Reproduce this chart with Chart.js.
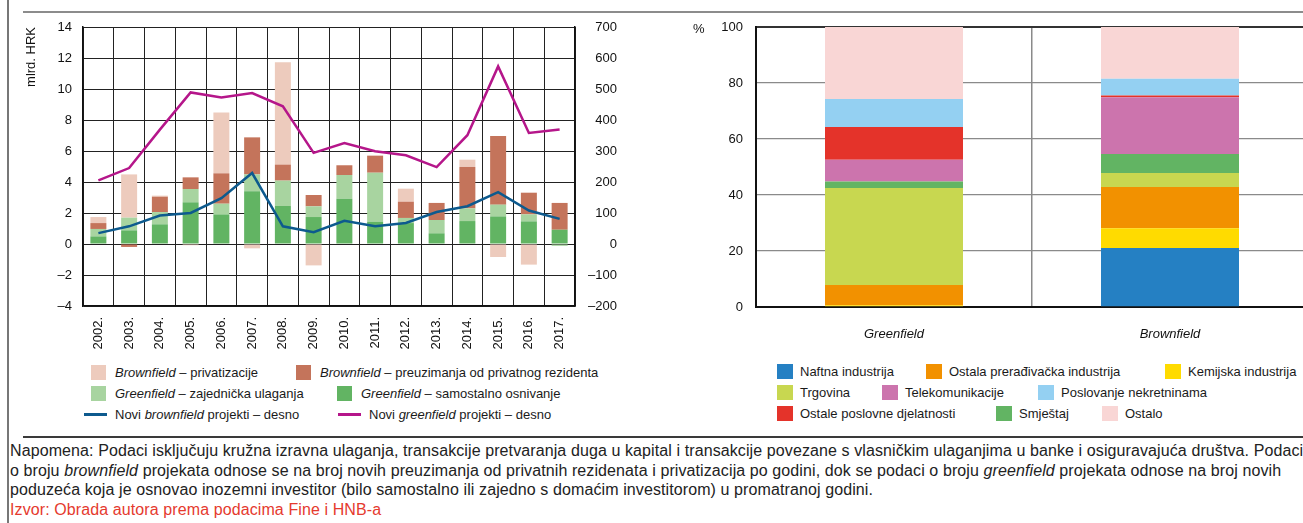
<!DOCTYPE html>
<html>
<head>
<meta charset="utf-8">
<script src="https://cdn.jsdelivr.net/npm/chart.js@4.4.0/dist/chart.umd.min.js"></script>
<style>
  html, body { margin: 0; padding: 0; }
  body { width: 1303px; height: 523px; overflow: hidden; position: relative; background: #fff;
         font-family: 'Liberation Sans', Arial, sans-serif; color: #1a1a1a; }
  canvas { position: absolute; top: 0; }
  #lijevi { left: 0; }
  #desni { left: 680px; }
  .crta { position: absolute; }
  .leg { position: absolute; height: 16px; display: flex; align-items: center; font-size: 13px; white-space: nowrap; }
  .kv { display: inline-block; margin-right: 9px; }
  .ln { display: inline-block; height: 3px; width: 23px; margin-right: 8px; }
  #napomena { position: absolute; left: 10px; top: 441px; font-size: 16px; letter-spacing: 0.1px; line-height: 19.5px; white-space: nowrap; color: #222; }
  #izvor { color: #e53a2e; }
  #posto { position: absolute; left: 693px; top: 21px; font-size: 13px; color: #111; }
</style>
</head>
<body>
<div class="crta" style="left:7px;top:0;width:2px;height:523px;background:#777"></div>
<div class="crta" style="left:23px;top:11px;width:1280px;height:2px;background:#8c8c8c"></div>
<div class="crta" style="left:23px;top:436px;width:1280px;height:2px;background:#3a3a3a"></div>

<canvas id="lijevi" width="650" height="360"></canvas>
<canvas id="desni" width="632" height="360"></canvas>
<div id="posto">%</div>
<div id="legendaLijevo"></div>
<div id="legendaDesno"></div>

<div id="napomena">
Napomena: Podaci isključuju kružna izravna ulaganja, transakcije pretvaranja duga u kapital i transakcije povezane s vlasničkim ulaganjima u banke i osiguravajuća društva. Podaci<br>
o broju <i>brownfield</i> projekata odnose se na broj novih preuzimanja od privatnih rezidenata i privatizacija po godini, dok se podaci o broju <i>greenfield</i> projekata odnose na broj novih<br>
poduzeća koja je osnovao inozemni investitor (bilo samostalno ili zajedno s domaćim investitorom) u promatranoj godini.<br>
<span id="izvor">Izvor: Obrada autora prema podacima Fine i HNB-a</span>
</div>

<script>
// lijevi graf - mlrd. HRK (lijeva os), broj projekata (desna os)
const godine = ['2002.', '2003.', '2004.', '2005.', '2006.', '2007.', '2008.', '2009.',
                '2010.', '2011.', '2012.', '2013.', '2014.', '2015.', '2016.', '2017.'];
const bfPrivatizacije = [0.39, 2.79, 0.07, -0.08, 3.93, -0.28, 6.60, -1.38, 0, 0, 0.84, 0, 0.47, -0.84, -1.33, 0];
const bfPreuzimanja   = [0.38, -0.19, 0.99, 0.75, 1.96, 2.39, 1.03, 0.73, 0.63, 1.10, 1.05, 1.10, 2.67, 4.43, 1.40, 1.73];
const gfZajednicka    = [0.48, 0.82, 0.79, 0.86, 0.69, 1.09, 1.64, 0.69, 1.53, 3.16, 0.33, 0.86, 0.82, 0.76, 0.45, -0.12];
const gfSamostalno    = [0.49, 0.88, 1.27, 2.69, 1.91, 3.40, 2.45, 1.74, 2.92, 1.44, 1.35, 0.69, 1.48, 1.78, 1.46, 0.92];
const noviBrownfield  = [35, 57, 92, 100, 148, 229, 57, 38, 75, 57, 68, 103, 122, 167, 108, 81];
const noviGreenfield  = [205, 245, 369, 489, 473, 487, 444, 294, 326, 299, 286, 248, 351, 573, 358, 369];

// desni graf - struktura po djelatnostima, %
const tipovi = ['Greenfield', 'Brownfield'];
const djelatnosti = ['Naftna industrija', 'Kemijska industrija', 'Ostala prerađivačka industrija', 'Trgovina',
                     'Smještaj', 'Telekomunikacije', 'Ostale poslovne djelatnosti', 'Poslovanje nekretninama', 'Ostalo'];
const udjeliGreenfield = [0, 0.6, 7.3, 34.6, 2.3, 7.8, 11.7, 10.0, 25.7];
const udjeliBrownfield = [21.1, 7.0, 14.8, 5.0, 6.7, 20.3, 0.6, 6.0, 18.5];

// boje
const boje = { privatizacije: '#edcbbd', preuzimanja: '#c4745b', zajednicka: '#a8d4a0', samostalno: '#62b463',
               brownLinija: '#0d5a8e', greenLinija: '#b5168a' };
const bojeDjelatnosti = ['#2580c3', '#ffdb00', '#f29100', '#c8d750', '#62b463', '#cc74ad', '#e4332a', '#94d0f2', '#f9d6d5'];

Chart.defaults.font.family = "'Liberation Sans', Arial, sans-serif";
Chart.defaults.font.size = 13;
Chart.defaults.color = '#111';

const minus = v => String(v).replace('-', '–');

new Chart(document.getElementById('lijevi'), {
  type: 'bar',
  data: {
    labels: godine,
    datasets: [
      { type: 'line', label: 'Novi brownfield projekti – desno', data: noviBrownfield, yAxisID: 'y2',
        borderColor: boje.brownLinija, borderWidth: 2.5, pointRadius: 0, tension: 0, order: 0 },
      { type: 'line', label: 'Novi greenfield projekti – desno', data: noviGreenfield, yAxisID: 'y2',
        borderColor: boje.greenLinija, borderWidth: 2.5, pointRadius: 0, tension: 0, order: 0 },
      { label: 'Greenfield – samostalno osnivanje', data: gfSamostalno, backgroundColor: boje.samostalno, order: 1 },
      { label: 'Greenfield – zajednička ulaganja', data: gfZajednicka, backgroundColor: boje.zajednicka, order: 1 },
      { label: 'Brownfield – preuzimanja od privatnog rezidenta', data: bfPreuzimanja, backgroundColor: boje.preuzimanja, order: 1 },
      { label: 'Brownfield – privatizacije', data: bfPrivatizacije, backgroundColor: boje.privatizacije, order: 1 }
    ]
  },
  options: {
    responsive: false,
    animation: false,
    layout: { padding: { left: 24, top: 27, right: 33, bottom: 0 } },
    datasets: { bar: { barPercentage: 0.52, categoryPercentage: 1 } },
    plugins: { legend: { display: false }, tooltip: { enabled: false } },
    scales: {
      x: {
        stacked: true,
        grid: { color: '#222', lineWidth: 1, drawTicks: false },
        border: { color: '#111', width: 1.5 },
        ticks: { minRotation: 90, maxRotation: 90, padding: 11, autoSkip: false },
        afterFit(s) { s.height = 54; }
      },
      y: {
        stacked: true, min: -4, max: 14,
        ticks: { stepSize: 2, padding: 11, callback: minus },
        grid: { color: '#222', lineWidth: 1, drawTicks: false },
        border: { color: '#111', width: 1.5 },
        title: { display: true, text: 'mlrd. HRK', align: 'end', padding: { top: 0, bottom: 0 } },
        afterFit(s) { s.width = 59; }
      },
      y2: {
        position: 'right', min: -200, max: 700,
        ticks: { stepSize: 100, padding: 11, crossAlign: 'far', callback: minus },
        grid: { display: false, drawTicks: false },
        border: { display: true, color: '#111', width: 1.5 },
        afterFit(s) { s.width = 42; }
      }
    }
  }
});

new Chart(document.getElementById('desni'), {
  type: 'bar',
  data: {
    labels: tipovi,
    datasets: djelatnosti.map((d, i) => ({
      label: d,
      data: [udjeliGreenfield[i], udjeliBrownfield[i]],
      backgroundColor: bojeDjelatnosti[i]
    }))
  },
  options: {
    responsive: false,
    animation: false,
    layout: { padding: { left: 0, top: 27, right: 4, bottom: 0 } },
    datasets: { bar: { barPercentage: 0.5, categoryPercentage: 1 } },
    plugins: { legend: { display: false }, tooltip: { enabled: false } },
    scales: {
      x: {
        stacked: true,
        grid: { color: '#8a8a8a', lineWidth: 1.5, drawTicks: false },
        border: { color: '#111', width: 2 },
        ticks: { padding: 20, font: { style: 'italic' } },
        afterFit(s) { s.height = 53; }
      },
      y: {
        stacked: true, min: 0, max: 100,
        ticks: { stepSize: 20, padding: 13 },
        grid: {
          color: c => c.tick.value === 100 ? '#333' : '#8a8a8a',
          lineWidth: c => c.tick.value === 100 ? 2 : 1.3,
          drawTicks: false
        },
        border: { color: '#111', width: 2 },
        afterFit(s) { s.width = 76; }
      }
    }
  }
});

// legende (HTML zbog kurziva)
const legLijevo = [
  { x: 91,  y: 364, boja: boje.privatizacije, tekst: '<i>Brownfield</i> – privatizacije' },
  { x: 296, y: 364, boja: boje.preuzimanja, tekst: '<i>Brownfield</i> – preuzimanja od privatnog rezidenta' },
  { x: 91,  y: 385, boja: boje.zajednicka, tekst: '<i>Greenfield</i> – zajednička ulaganja' },
  { x: 337, y: 385, boja: boje.samostalno, tekst: '<i>Greenfield</i> – samostalno osnivanje' },
  { x: 84,  y: 406, boja: boje.brownLinija, tekst: 'Novi <i>brownfield</i> projekti – desno', linija: true },
  { x: 338, y: 406, boja: boje.greenLinija, tekst: 'Novi <i>greenfield</i> projekti – desno', linija: true }
];
document.getElementById('legendaLijevo').innerHTML = legLijevo.map(l =>
  '<div class="leg" style="left:' + l.x + 'px;top:' + l.y + 'px">' +
  (l.linija ? '<span class="ln" style="background:' + l.boja + '"></span>'
            : '<span class="kv" style="width:15px;height:15px;background:' + l.boja + '"></span>') +
  '<span>' + l.tekst + '</span></div>').join('');

const redoslijedLegende = [0, 2, 1, 3, 5, 7, 6, 4, 8];
const pozDesno = [[777, 363], [926, 363], [1165, 363], [777, 384], [882, 384], [1038, 384], [777, 405], [996, 405], [1102, 405]];
document.getElementById('legendaDesno').innerHTML = redoslijedLegende.map((k, i) =>
  '<div class="leg" style="left:' + pozDesno[i][0] + 'px;top:' + pozDesno[i][1] + 'px">' +
  '<span class="kv" style="width:16px;height:15px;margin-right:7px;background:' + bojeDjelatnosti[k] + '"></span>' +
  '<span>' + djelatnosti[k] + '</span></div>').join('');
</script>
</body>
</html>
